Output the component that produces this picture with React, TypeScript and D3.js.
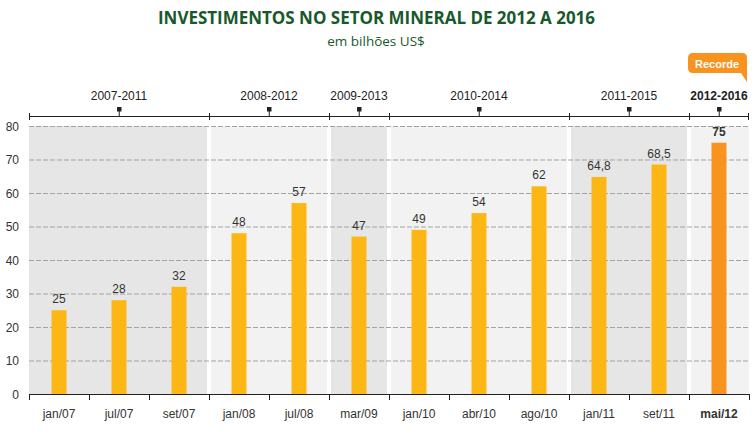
import React from 'react';
import * as d3 from 'd3';

const categories = ['jan/07', 'jul/07', 'set/07', 'jan/08', 'jul/08', 'mar/09', 'jan/10', 'abr/10', 'ago/10', 'jan/11', 'set/11', 'mai/12'];
const values = [25, 28, 32, 48, 57, 47, 49, 54, 62, 64.8, 68.5, 75];
const valueLabels = ['25', '28', '32', '48', '57', '47', '49', '54', '62', '64,8', '68,5', '75'];
const periodLabels = ['2007-2011', '2008-2012', '2009-2013', '2010-2014', '2011-2015', '2012-2016'];
const periodStart = [0, 3, 5, 6, 9, 11];
const periodEnd = [2, 4, 5, 8, 10, 11];
const yTicks = [0, 10, 20, 30, 40, 50, 60, 70, 80];

const W = 752;
const H = 433;
const left = 29;
const right = 749;
const top = 126;
const bottom = 394;
const font = '"Liberation Sans", Arial, sans-serif';

export default function App() {
  const x = d3.scaleBand<string>().domain(categories).range([left, right]).padding(0);
  const y = d3.scaleLinear().domain([0, 80]).range([bottom, top]);
  const bw = x.bandwidth();
  const barW = 15;
  const last = categories.length - 1;

  return (
    <svg width={W} height={H} style={{ position: 'absolute', left: 0, top: 0, background: '#fff' }}>
      <text x={376.5} y={23.5} textAnchor="middle" fontFamily='"Open Sans", sans-serif' fontWeight={700} fontSize={17.5} fill="#17592b" textLength={437} lengthAdjust="spacingAndGlyphs">
        INVESTIMENTOS NO SETOR MINERAL DE 2012 A 2016
      </text>
      <text x={376} y={45.5} textAnchor="middle" fontFamily='"Open Sans", sans-serif' fontSize={13.5} fill="#17592b">
        em bilhões US$
      </text>

      {periodLabels.map((p, i) => {
        const x0 = (x(categories[periodStart[i]]) as number) + (periodStart[i] === 0 ? 0 : 2);
        const x1 = (x(categories[periodEnd[i]]) as number) + bw - (periodEnd[i] === last ? 0 : 2);
        return (
          <rect key={p} x={x0} y={top} width={x1 - x0} height={bottom - top} fill={i % 2 === 0 ? '#e6e6e6' : '#f2f2f2'} />
        );
      })}

      {yTicks.filter((t) => t > 0).map((t) => (
        <line key={t} x1={left} x2={right} y1={y(t) + 0.5} y2={y(t) + 0.5} stroke="#a3a3a3" strokeWidth={1} strokeDasharray="5,2" />
      ))}

      {yTicks.map((t) => (
        <text key={t} x={19} y={y(t) + 4.5} textAnchor="end" fontFamily={font} fontSize={12} fill="#333">
          {t}
        </text>
      ))}

      {categories.map((c, i) => {
        const cx = (x(c) as number) + bw / 2;
        return (
          <g key={c}>
            <rect x={cx - barW / 2} y={y(values[i])} width={barW} height={bottom - y(values[i])} fill={i === last ? '#f7931e' : '#fcb714'} />
            <text x={cx} y={y(values[i]) - 7} textAnchor="middle" fontFamily={font} fontSize={12} fontWeight={i === last ? 700 : 400} fill="#333">
              {valueLabels[i]}
            </text>
            <text x={cx} y={418} textAnchor="middle" fontFamily={font} fontSize={12} fontWeight={i === last ? 700 : 400} fill="#333">
              {c}
            </text>
          </g>
        );
      })}

      <line x1={left} x2={right} y1={bottom + 0.5} y2={bottom + 0.5} stroke="#222" strokeWidth={1.2} />
      {d3.range(categories.length + 1).map((i) => {
        const tx = Math.round(left + i * bw) + 0.5;
        return <line key={i} x1={tx} x2={tx} y1={bottom} y2={bottom + 6} stroke="#222" strokeWidth={1} />;
      })}

      <line x1={left} x2={right} y1={116.5} y2={116.5} stroke="#222" strokeWidth={1.2} />
      {periodLabels.map((p, i) => {
        const x0 = x(categories[periodStart[i]]) as number;
        const x1 = (x(categories[periodEnd[i]]) as number) + bw;
        const cx = (x0 + x1) / 2;
        return (
          <g key={p}>
            <line x1={Math.round(x0) + 0.5} x2={Math.round(x0) + 0.5} y1={113} y2={120} stroke="#222" strokeWidth={1} />
            {i === periodLabels.length - 1 && (
              <line x1={Math.round(x1) - 0.5} x2={Math.round(x1) - 0.5} y1={113} y2={120} stroke="#222" strokeWidth={1} />
            )}
            <rect x={cx - 2} y={107} width={4.5} height={4.5} fill="#222" />
            <line x1={cx + 0.25} x2={cx + 0.25} y1={111} y2={116} stroke="#222" strokeWidth={1} />
            <text x={cx} y={100} textAnchor="middle" fontFamily={font} fontSize={12} fontWeight={i === periodLabels.length - 1 ? 700 : 400} fill="#222">
              {p}
            </text>
          </g>
        );
      })}

      <path d="M693,53 H742 Q747,53 747,58 V82 L741,73 H693 Q688,73 688,68 V58 Q688,53 693,53 Z" fill="#f7931e" />
      <text x={717} y={67.5} textAnchor="middle" fontFamily={font} fontSize={11} fontWeight={700} fill="#fff">
        Recorde
      </text>
    </svg>
  );
}
